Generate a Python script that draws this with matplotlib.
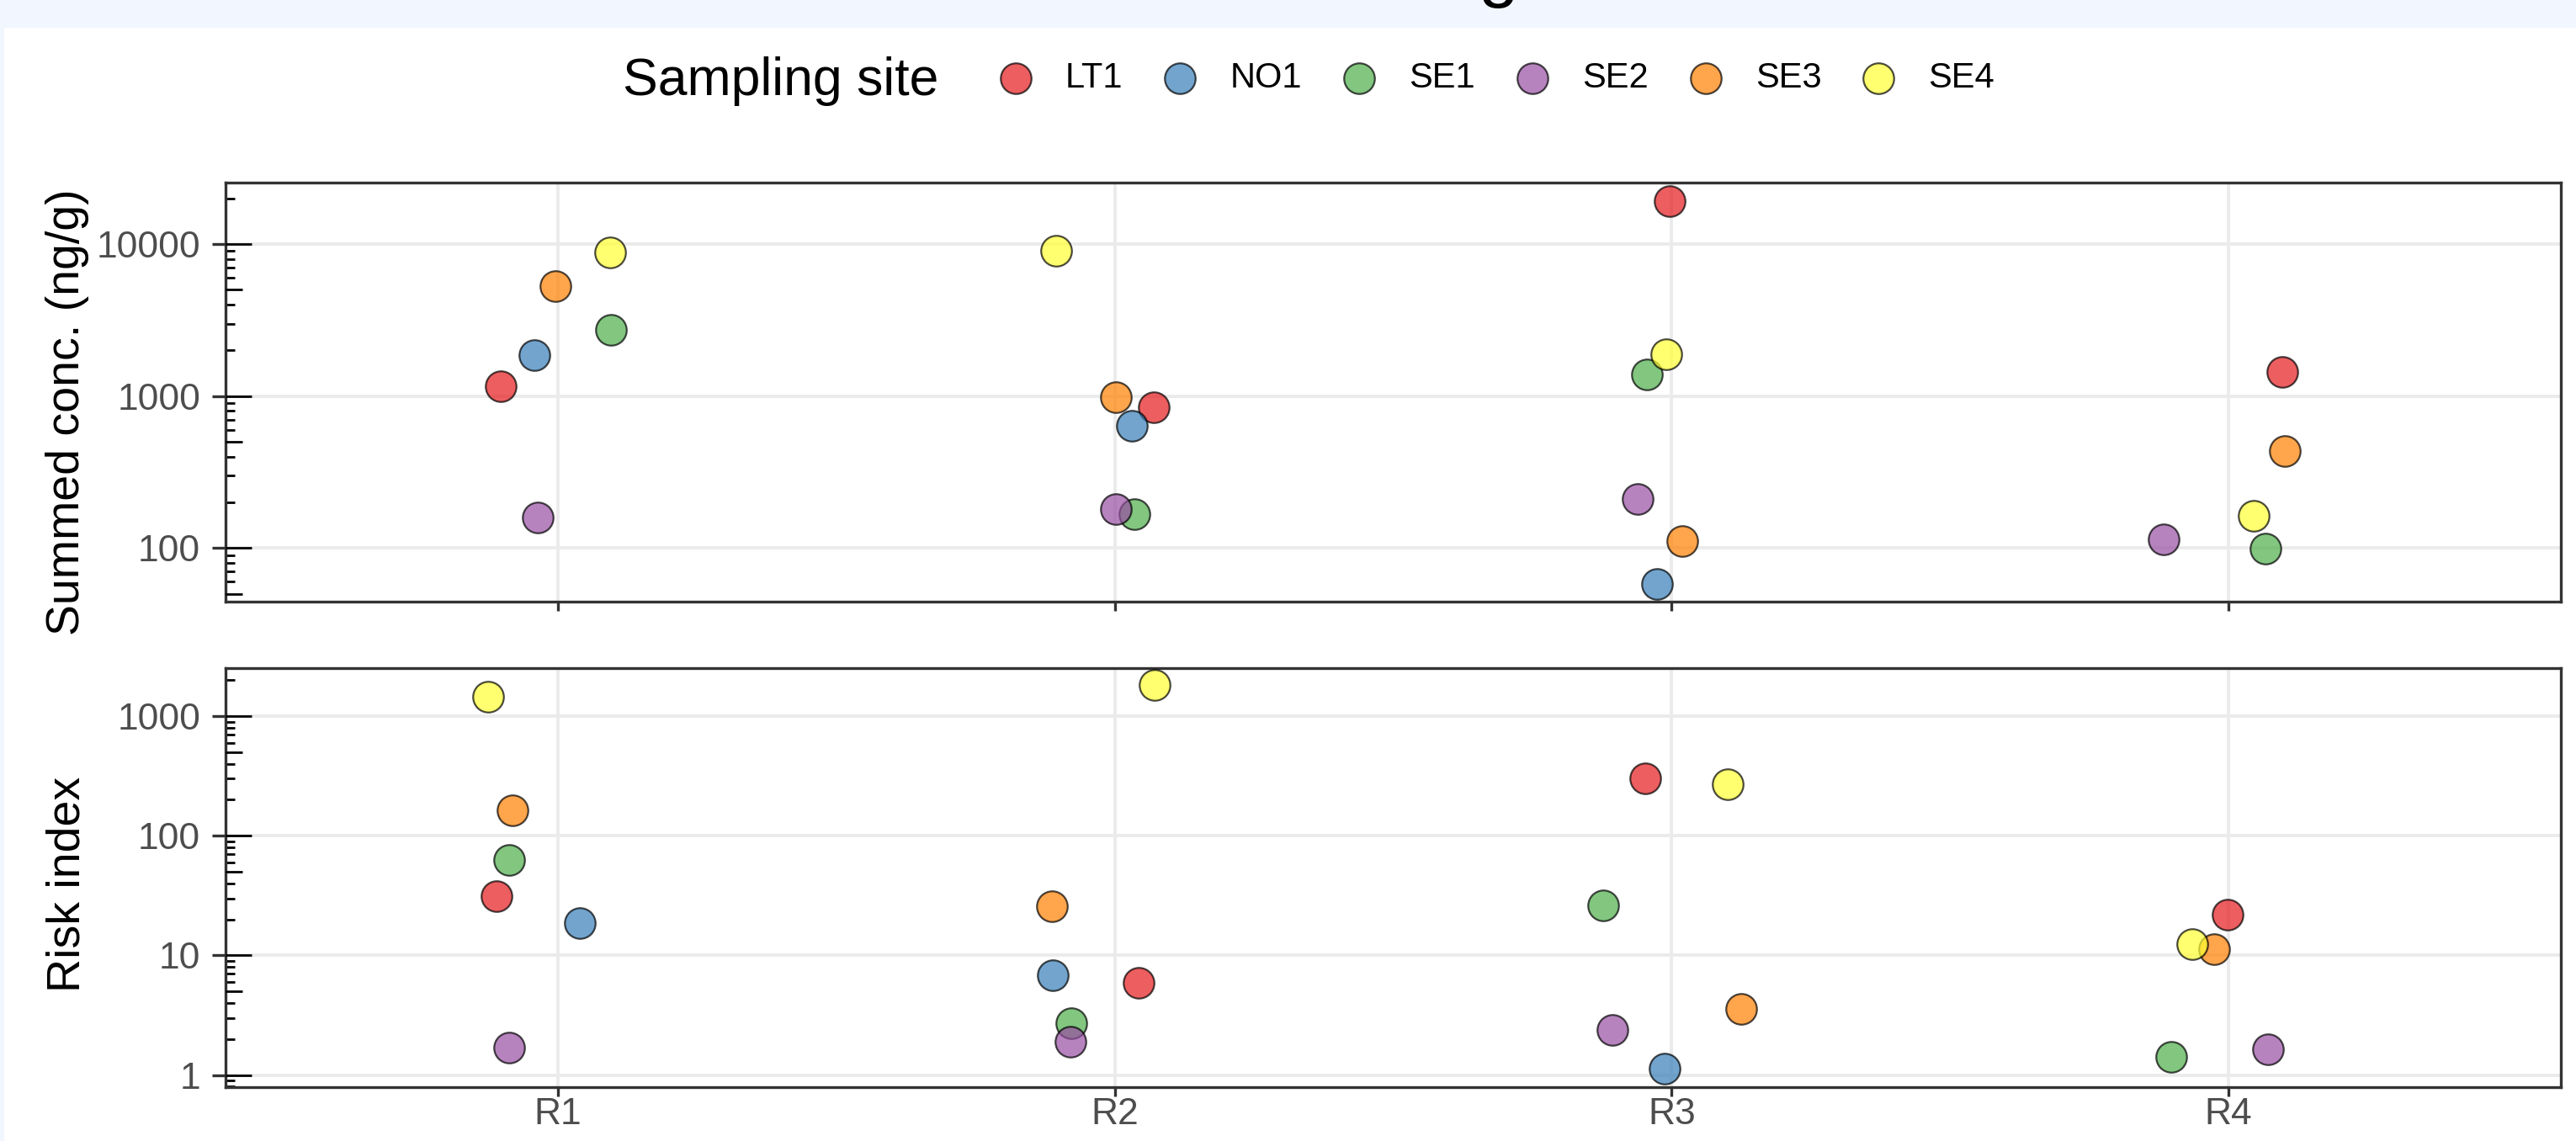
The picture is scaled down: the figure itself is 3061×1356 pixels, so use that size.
import numpy as np
import matplotlib
matplotlib.use("Agg")
import matplotlib.pyplot as plt
from matplotlib.patches import Rectangle
from matplotlib.ticker import LogLocator, NullFormatter, FuncFormatter

plt.rcParams['font.family'] = ['Liberation Sans', 'DejaVu Sans']

# -------------------------------
# data
regions = ['R1', 'R2', 'R3', 'R4']
sites = ['LT1', 'NO1', 'SE1', 'SE2', 'SE3', 'SE4']
site_colors = ['#E41A1C', '#377EB8', '#4DAF4A', '#984EA3', '#FF7F00', '#FFFF33']

# summed concentration (ng/g), one row per site, columns R1..R4
conc_LT1 = [1161, 847, 19230, 1446]
conc_NO1 = [1866, 638, 58, np.nan]
conc_SE1 = [2730, 168, 1393, 99.6]
conc_SE2 = [159, 181, 210, 114]
conc_SE3 = [5320, 984, 111, 436]
conc_SE4 = [8760, 9040, 1891, 162]

# horizontal jitter of each point (fraction of category step)
conc_jit_LT1 = [-0.103, 0.070, -0.004, 0.097]
conc_jit_NO1 = [-0.042, 0.031, -0.026, np.nan]
conc_jit_SE1 = [0.095, 0.035, -0.044, 0.066]
conc_jit_SE2 = [-0.036, 0.002, -0.061, -0.116]
conc_jit_SE3 = [-0.005, 0.002, 0.019, 0.102]
conc_jit_SE4 = [0.093, -0.105, -0.010, 0.046]

# risk index
risk_LT1 = [31.5, 5.93, 304, 21.8]
risk_NO1 = [18.7, 6.86, 1.14, np.nan]
risk_SE1 = [63, 2.71, 26.3, 1.43]
risk_SE2 = [1.69, 1.89, 2.37, 1.64]
risk_SE3 = [163, 25.6, 3.56, 11.3]
risk_SE4 = [1462, 1811, 270, 12.4]

risk_jit_LT1 = [-0.111, 0.043, -0.048, -0.001]
risk_jit_NO1 = [0.039, -0.112, -0.013, np.nan]
risk_jit_SE1 = [-0.088, -0.078, -0.123, -0.102]
risk_jit_SE2 = [-0.087, -0.080, -0.106, 0.071]
risk_jit_SE3 = [-0.082, -0.113, 0.125, -0.025]
risk_jit_SE4 = [-0.126, 0.072, 0.101, -0.065]

conc = [conc_LT1, conc_NO1, conc_SE1, conc_SE2, conc_SE3, conc_SE4]
conc_jit = [conc_jit_LT1, conc_jit_NO1, conc_jit_SE1, conc_jit_SE2, conc_jit_SE3, conc_jit_SE4]
risk = [risk_LT1, risk_NO1, risk_SE1, risk_SE2, risk_SE3, risk_SE4]
risk_jit = [risk_jit_LT1, risk_jit_NO1, risk_jit_SE1, risk_jit_SE2, risk_jit_SE3, risk_jit_SE4]

# -------------------------------
W, H = 3061, 1356
fig = plt.figure(figsize=(W / 100, H / 100), dpi=100, facecolor='white')

# light band at top and thin strip at left (page background)
fig.patches.append(Rectangle((0, 1 - 32 / H), 1, 32 / H, transform=fig.transFigure,
                             color='#F2F7FF', zorder=0))
fig.patches.append(Rectangle((0, 0), 4 / W, 1, transform=fig.transFigure,
                             color='#F2F7FF', zorder=0))
# cropped title, only the descender is visible
fig.text(1780 / W, 1 + 8 / H, 'g', fontsize=62, ha='center', va='baseline')

left = 268 / W
width = (3043 - 268) / W
ax_top = fig.add_axes([left, 1 - 715 / H, width, (715 - 217) / H])
ax_bot = fig.add_axes([left, 1 - 1292 / H, width, (1292 - 794) / H])

grey20 = '#333333'


def style_axis(ax, ylim, show_xlabels):
    ax.set_yscale('log')
    ax.set_xlim(0.403, 4.597)
    ax.set_ylim(*ylim)
    ax.set_xticks(range(1, len(regions) + 1))
    ax.set_xticklabels(regions)
    ax.yaxis.set_major_locator(LogLocator(base=10, numticks=20))
    ax.yaxis.set_major_formatter(FuncFormatter(lambda v, p: f'{v:g}'))
    ax.yaxis.set_minor_locator(LogLocator(base=10, subs=[2, 3, 4, 6, 7, 8, 9], numticks=20))
    ax.yaxis.set_minor_formatter(NullFormatter())
    ax.grid(True, which='major', color='#EBEBEB', lw=2.8)
    ax.set_axisbelow(True)
    for sp in ax.spines.values():
        sp.set_color(grey20)
        sp.set_linewidth(2.4)
    ax.tick_params(axis='both', which='major', direction='out', length=11.5, width=2.4,
                   color=grey20, labelsize=32, labelcolor='#4D4D4D', pad=10)
    ax.tick_params(axis='x', which='major', length=8, pad=1, labelbottom=show_xlabels)
    ax.tick_params(axis='y', which='minor', direction='in', length=7.9, width=2, color='black')
    ax.tick_params(axis='x', which='minor', bottom=False)

    # log ticks inside the panel: long at decades, mid at 5s
    tw = ax.twinx()
    tw.set_yscale('log')
    tw.set_ylim(*ylim)
    tw.yaxis.tick_left()
    tw.yaxis.set_major_locator(LogLocator(base=10, numticks=20))
    tw.yaxis.set_minor_locator(LogLocator(base=10, subs=[5], numticks=20))
    tw.yaxis.set_minor_formatter(NullFormatter())
    tw.tick_params(which='major', direction='in', length=22.3, width=2, color='black',
                   labelleft=False, labelright=False)
    tw.tick_params(which='minor', direction='in', length=14.4, width=2, color='black',
                   labelleft=False, labelright=False)
    for sp in tw.spines.values():
        sp.set_visible(False)


style_axis(ax_top, (44.4, 25400), False)
style_axis(ax_bot, (0.793, 2519), True)

cat_x = np.arange(1, len(regions) + 1)
handles = []
for i, site in enumerate(sites):
    for ax, vals, jit in ((ax_top, conc[i], conc_jit[i]), (ax_bot, risk[i], risk_jit[i])):
        v = np.array(vals, dtype=float)
        j = np.array(jit, dtype=float)
        ok = ~np.isnan(v)
        h = ax.scatter(cat_x[ok] + j[ok], v[ok], s=690, c=site_colors[i], edgecolors='black',
                       linewidths=1.6, alpha=0.7, zorder=3)
    handles.append(h)

ax_top.set_ylabel('Summed conc. (ng/g)', fontsize=40, va='center')
ax_top.yaxis.set_label_coords(-0.0677, 0.452)
ax_bot.set_ylabel('Risk index', fontsize=40, va='center')
ax_bot.yaxis.set_label_coords(-0.0677, 0.484)

# legend on top
fig.text(740 / W, 1 - 113 / H, 'Sampling site', fontsize=45, ha='left', va='baseline')
fig.legend(handles, sites, ncol=6, loc='center left',
           bbox_to_anchor=(1186 / W, 1 - 93 / H), frameon=False, fontsize=30,
           handlelength=1.0, handletextpad=0.92, columnspacing=1.13,
           borderpad=0, borderaxespad=0, scatterpoints=1)

fig.savefig('out.png', dpi=100, facecolor='white')
